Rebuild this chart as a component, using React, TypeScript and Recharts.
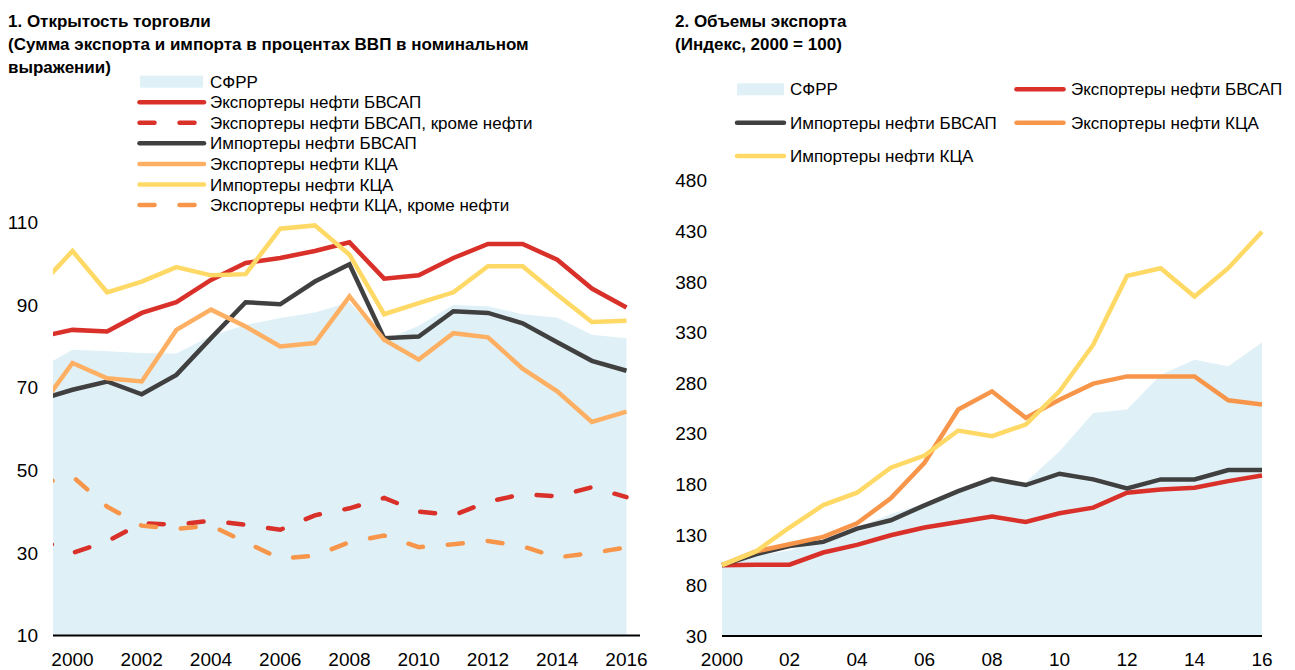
import React from 'react';
import { ComposedChart, Area, Line, XAxis, YAxis } from 'recharts';

const FONT = "'Liberation Sans Narrow', 'Arial Narrow', 'Liberation Sans', Arial, sans-serif";

// ---------- Chart 1: trade openness (% of GDP) ----------
const years1 = [1999, 2000, 2001, 2002, 2003, 2004, 2005, 2006, 2007, 2008, 2009, 2010, 2011, 2012, 2013, 2014, 2015, 2016];
const sfrr1 = [74.4, 79.2, 78.8, 78.4, 78.3, 82.6, 85.2, 86.9, 88.2, 90.7, 81.5, 85.0, 90.0, 89.7, 87.8, 87.0, 82.8, 82.0];
const bvsapExp1 = [82.2, 84.0, 83.6, 88.1, 90.7, 96.1, 100.2, 101.4, 103.1, 105.2, 96.4, 97.2, 101.4, 104.8, 104.8, 101.0, 94.0, 89.4];
const bvsapExpNonOil1 = [33.4, 30.0, 32.8, 37.2, 36.8, 37.8, 36.8, 35.6, 39.1, 40.8, 43.3, 40.0, 39.1, 42.4, 44.2, 43.7, 45.9, 43.5];
const bvsapImp1 = [67.0, 69.5, 71.5, 68.4, 73.1, 82.0, 90.7, 90.2, 95.7, 99.9, 82.0, 82.4, 88.5, 88.1, 85.6, 81.0, 76.5, 74.1];
const kcaExp1 = [64.4, 76.0, 72.3, 71.5, 84.0, 88.9, 84.8, 80.0, 80.8, 92.1, 81.6, 76.8, 83.2, 82.2, 74.6, 69.1, 61.7, 64.2];
const kcaImp1 = [94.1, 103.1, 93.1, 95.7, 99.2, 97.2, 97.5, 108.5, 109.3, 102.2, 87.8, 90.5, 93.1, 99.4, 99.4, 92.5, 85.9, 86.2];
const kcaExpNonOil1 = [46.7, 48.5, 41.2, 36.6, 35.8, 36.6, 32.6, 28.6, 29.3, 32.6, 34.2, 31.4, 32.1, 32.9, 31.6, 28.9, 30.0, 31.3];
const xTicks1 = [2000, 2002, 2004, 2006, 2008, 2010, 2012, 2014, 2016];
const yTicks1 = [10, 30, 50, 70, 90, 110];

// ---------- Chart 2: export volumes (2000 = 100) ----------
const years2 = [2000, 2001, 2002, 2003, 2004, 2005, 2006, 2007, 2008, 2009, 2010, 2011, 2012, 2013, 2014, 2015, 2016];
const sfrr2 = [100, 109.2, 114.5, 124.0, 137.2, 150.3, 161.1, 175.6, 185.5, 182.0, 212.7, 250.5, 253.8, 288.3, 303.1, 296.5, 320.1];
const bvsapExp2 = [100, 100.5, 100.5, 112.5, 120.0, 129.6, 137.2, 142.7, 148.0, 142.7, 151.3, 156.9, 171.6, 174.9, 176.6, 183.1, 188.7];
const bvsapImp2 = [100, 110.8, 119.0, 123.0, 136.2, 144.4, 159.1, 173.2, 185.4, 179.2, 190.4, 184.8, 175.9, 184.8, 184.8, 194.0, 194.0];
const kcaExp2 = [100, 113.5, 120.7, 127.9, 141.4, 166.0, 201.2, 253.8, 271.8, 245.6, 263.6, 279.4, 286.6, 286.6, 286.6, 263.0, 258.7];
const kcaImp2 = [100, 113.5, 137.2, 159.4, 171.6, 196.3, 208.4, 233.1, 227.5, 239.0, 271.8, 317.9, 385.9, 393.5, 365.5, 393.5, 429.6];
const xTicks2 = [2000, 2002, 2004, 2006, 2008, 2010, 2012, 2014, 2016];
const xTickLabels2 = ['2000', '02', '04', '06', '08', '10', '12', '14', '16'];
const yTicks2 = [30, 80, 130, 180, 230, 280, 330, 380, 430, 480];

// ---------- Colours ----------
const C_SFRR = '#DFF1F7';
const C_RED = '#D9302A';
const C_GREY = '#404040';
const C_LORANGE = '#FDB063';
const C_YELLOW = '#FFD966';
const C_ORANGE = '#F7964A';
const LW = 4.5;
const DASH = '15 25';

const title1 = ['1. Открытость торговли', '(Сумма экспорта и импорта в процентах ВВП в номинальном', 'выражении)'];
const title2 = ['2. Объемы экспорта', '(Индекс, 2000 = 100)'];

const legend1 = [
  { label: 'СФРР', color: C_SFRR, kind: 'area' },
  { label: 'Экспортеры нефти БВСАП', color: C_RED, kind: 'line' },
  { label: 'Экспортеры нефти БВСАП, кроме нефти', color: C_RED, kind: 'dash' },
  { label: 'Импортеры нефти БВСАП', color: C_GREY, kind: 'line' },
  { label: 'Экспортеры нефти КЦА', color: C_LORANGE, kind: 'line' },
  { label: 'Импортеры нефти КЦА', color: C_YELLOW, kind: 'line' },
  { label: 'Экспортеры нефти КЦА, кроме нефти', color: C_ORANGE, kind: 'dash' },
];

const legend2 = [
  { label: 'СФРР', color: C_SFRR, kind: 'area', col: 0, row: 0 },
  { label: 'Экспортеры нефти БВСАП', color: C_RED, kind: 'line', col: 1, row: 0 },
  { label: 'Импортеры нефти БВСАП', color: C_GREY, kind: 'line', col: 0, row: 1 },
  { label: 'Экспортеры нефти КЦА', color: C_ORANGE, kind: 'line', col: 1, row: 1 },
  { label: 'Импортеры нефти КЦА', color: C_YELLOW, kind: 'line', col: 0, row: 2 },
];

const data1 = years1.map((y, i) => ({
  year: y,
  sfrr: sfrr1[i],
  bvsapExp: bvsapExp1[i],
  bvsapExpNonOil: bvsapExpNonOil1[i],
  bvsapImp: bvsapImp1[i],
  kcaExp: kcaExp1[i],
  kcaImp: kcaImp1[i],
  kcaExpNonOil: kcaExpNonOil1[i],
}));

const data2 = years2.map((y, i) => ({
  year: y,
  sfrr: sfrr2[i],
  bvsapExp: bvsapExp2[i],
  bvsapImp: bvsapImp2[i],
  kcaExp: kcaExp2[i],
  kcaImp: kcaImp2[i],
}));

const tickStyle = { fill: '#000', fontSize: 19, fontFamily: FONT };

function Swatch({ kind, color, x1, x2, cy }: { kind: string; color: string; x1: number; x2: number; cy: number }) {
  if (kind === 'area') {
    return <rect x={x1} y={cy - 6} width={x2 - x1} height={12} fill={color} />;
  }
  return (
    <line
      x1={x1}
      x2={x2}
      y1={cy}
      y2={cy}
      stroke={color}
      strokeWidth={LW}
      strokeLinecap="round"
      strokeDasharray={kind === 'dash' ? DASH : undefined}
    />
  );
}

function Overlay() {
  const legFont = 17;
  return (
    <svg width={1295} height={670} style={{ position: 'absolute', left: 0, top: 0, pointerEvents: 'none' }}>
      {title1.map((t, i) => (
        <text key={'t1' + i} x={8} y={27 + i * 23} fontFamily={FONT} fontWeight="bold" fontSize={17} fill="#000">
          {t}
        </text>
      ))}
      {title2.map((t, i) => (
        <text key={'t2' + i} x={675} y={27 + i * 23} fontFamily={FONT} fontWeight="bold" fontSize={17} fill="#000">
          {t}
        </text>
      ))}
      {legend1.map((l, i) => {
        const cy = 81.7 + i * 20.55;
        return (
          <g key={'l1' + i}>
            <Swatch kind={l.kind} color={l.color} x1={l.kind === 'area' ? 140 : 139.5} x2={l.kind === 'area' ? 203 : 204} cy={cy} />
            <text x={210} y={cy + 6.1} fontFamily={FONT} fontSize={legFont} fill="#000">
              {l.label}
            </text>
          </g>
        );
      })}
      {legend2.map((l, i) => {
        const cy = 89.3 + l.row * 33.4;
        const sx = l.col === 0 ? 737 : 1016.5;
        const tx = l.col === 0 ? 790 : 1071;
        return (
          <g key={'l2' + i}>
            <Swatch kind={l.kind} color={l.color} x1={sx} x2={sx + 47} cy={cy} />
            <text x={tx} y={cy + 6.1} fontFamily={FONT} fontSize={legFont} fill="#000">
              {l.label}
            </text>
          </g>
        );
      })}
    </svg>
  );
}

export default function App() {
  return (
    <div style={{ position: 'fixed', left: 0, top: 0, width: 1295, height: 670, background: '#fff', overflow: 'hidden' }}>
      <div style={{ position: 'absolute', left: 0, top: 0 }}>
        <ComposedChart width={660} height={670} data={data1} margin={{ top: 222.5, right: 20, bottom: 0, left: 0 }}>
          <XAxis
            dataKey="year"
            type="number"
            domain={[1999.437, 2016.39]}
            allowDataOverflow
            ticks={xTicks1}
            interval={0}
            tickLine={false}
            tickSize={0}
            tickMargin={17}
            height={34.5}
            axisLine={{ stroke: '#000', strokeWidth: 2 }}
            tick={tickStyle}
          />
          <YAxis
            type="number"
            domain={[10, 110]}
            ticks={yTicks1}
            interval={0}
            width={53}
            axisLine={false}
            tickLine={false}
            tickSize={0}
            tickMargin={15}
            tick={tickStyle}
          />
          <Area dataKey="sfrr" type="linear" stroke="none" fill={C_SFRR} fillOpacity={1} isAnimationActive={false} />
          <Line dataKey="bvsapExp" type="linear" stroke={C_RED} strokeWidth={LW} dot={false} isAnimationActive={false} />
          <Line dataKey="bvsapExpNonOil" type="linear" stroke={C_RED} strokeWidth={LW} strokeDasharray={DASH} strokeLinecap="round" dot={false} isAnimationActive={false} />
          <Line dataKey="bvsapImp" type="linear" stroke={C_GREY} strokeWidth={LW} dot={false} isAnimationActive={false} />
          <Line dataKey="kcaExp" type="linear" stroke={C_LORANGE} strokeWidth={LW} dot={false} isAnimationActive={false} />
          <Line dataKey="kcaImp" type="linear" stroke={C_YELLOW} strokeWidth={LW} dot={false} isAnimationActive={false} />
          <Line dataKey="kcaExpNonOil" type="linear" stroke={C_ORANGE} strokeWidth={LW} strokeDasharray={DASH} strokeLinecap="round" dot={false} isAnimationActive={false} />
        </ComposedChart>
      </div>
      <div style={{ position: 'absolute', left: 650, top: 0 }}>
        <ComposedChart width={645} height={670} data={data2} margin={{ top: 180.7, right: 33, bottom: 0, left: 0 }}>
          <XAxis
            dataKey="year"
            type="number"
            domain={[2000, 2016]}
            ticks={xTicks2}
            interval={0}
            tickFormatter={(v: number) => xTickLabels2[xTicks2.indexOf(v)] ?? String(v)}
            tickLine={false}
            tickSize={0}
            tickMargin={17}
            height={34}
            axisLine={{ stroke: '#000', strokeWidth: 2 }}
            tick={tickStyle}
          />
          <YAxis
            type="number"
            domain={[30, 480]}
            ticks={yTicks2}
            interval={0}
            width={72}
            axisLine={false}
            tickLine={false}
            tickSize={0}
            tickMargin={15}
            tick={tickStyle}
          />
          <Area dataKey="sfrr" type="linear" stroke="none" fill={C_SFRR} fillOpacity={1} isAnimationActive={false} />
          <Line dataKey="bvsapExp" type="linear" stroke={C_RED} strokeWidth={LW} dot={false} isAnimationActive={false} />
          <Line dataKey="bvsapImp" type="linear" stroke={C_GREY} strokeWidth={LW} dot={false} isAnimationActive={false} />
          <Line dataKey="kcaExp" type="linear" stroke={C_ORANGE} strokeWidth={LW} dot={false} isAnimationActive={false} />
          <Line dataKey="kcaImp" type="linear" stroke={C_YELLOW} strokeWidth={LW} dot={false} isAnimationActive={false} />
        </ComposedChart>
      </div>
      <Overlay />
    </div>
  );
}
